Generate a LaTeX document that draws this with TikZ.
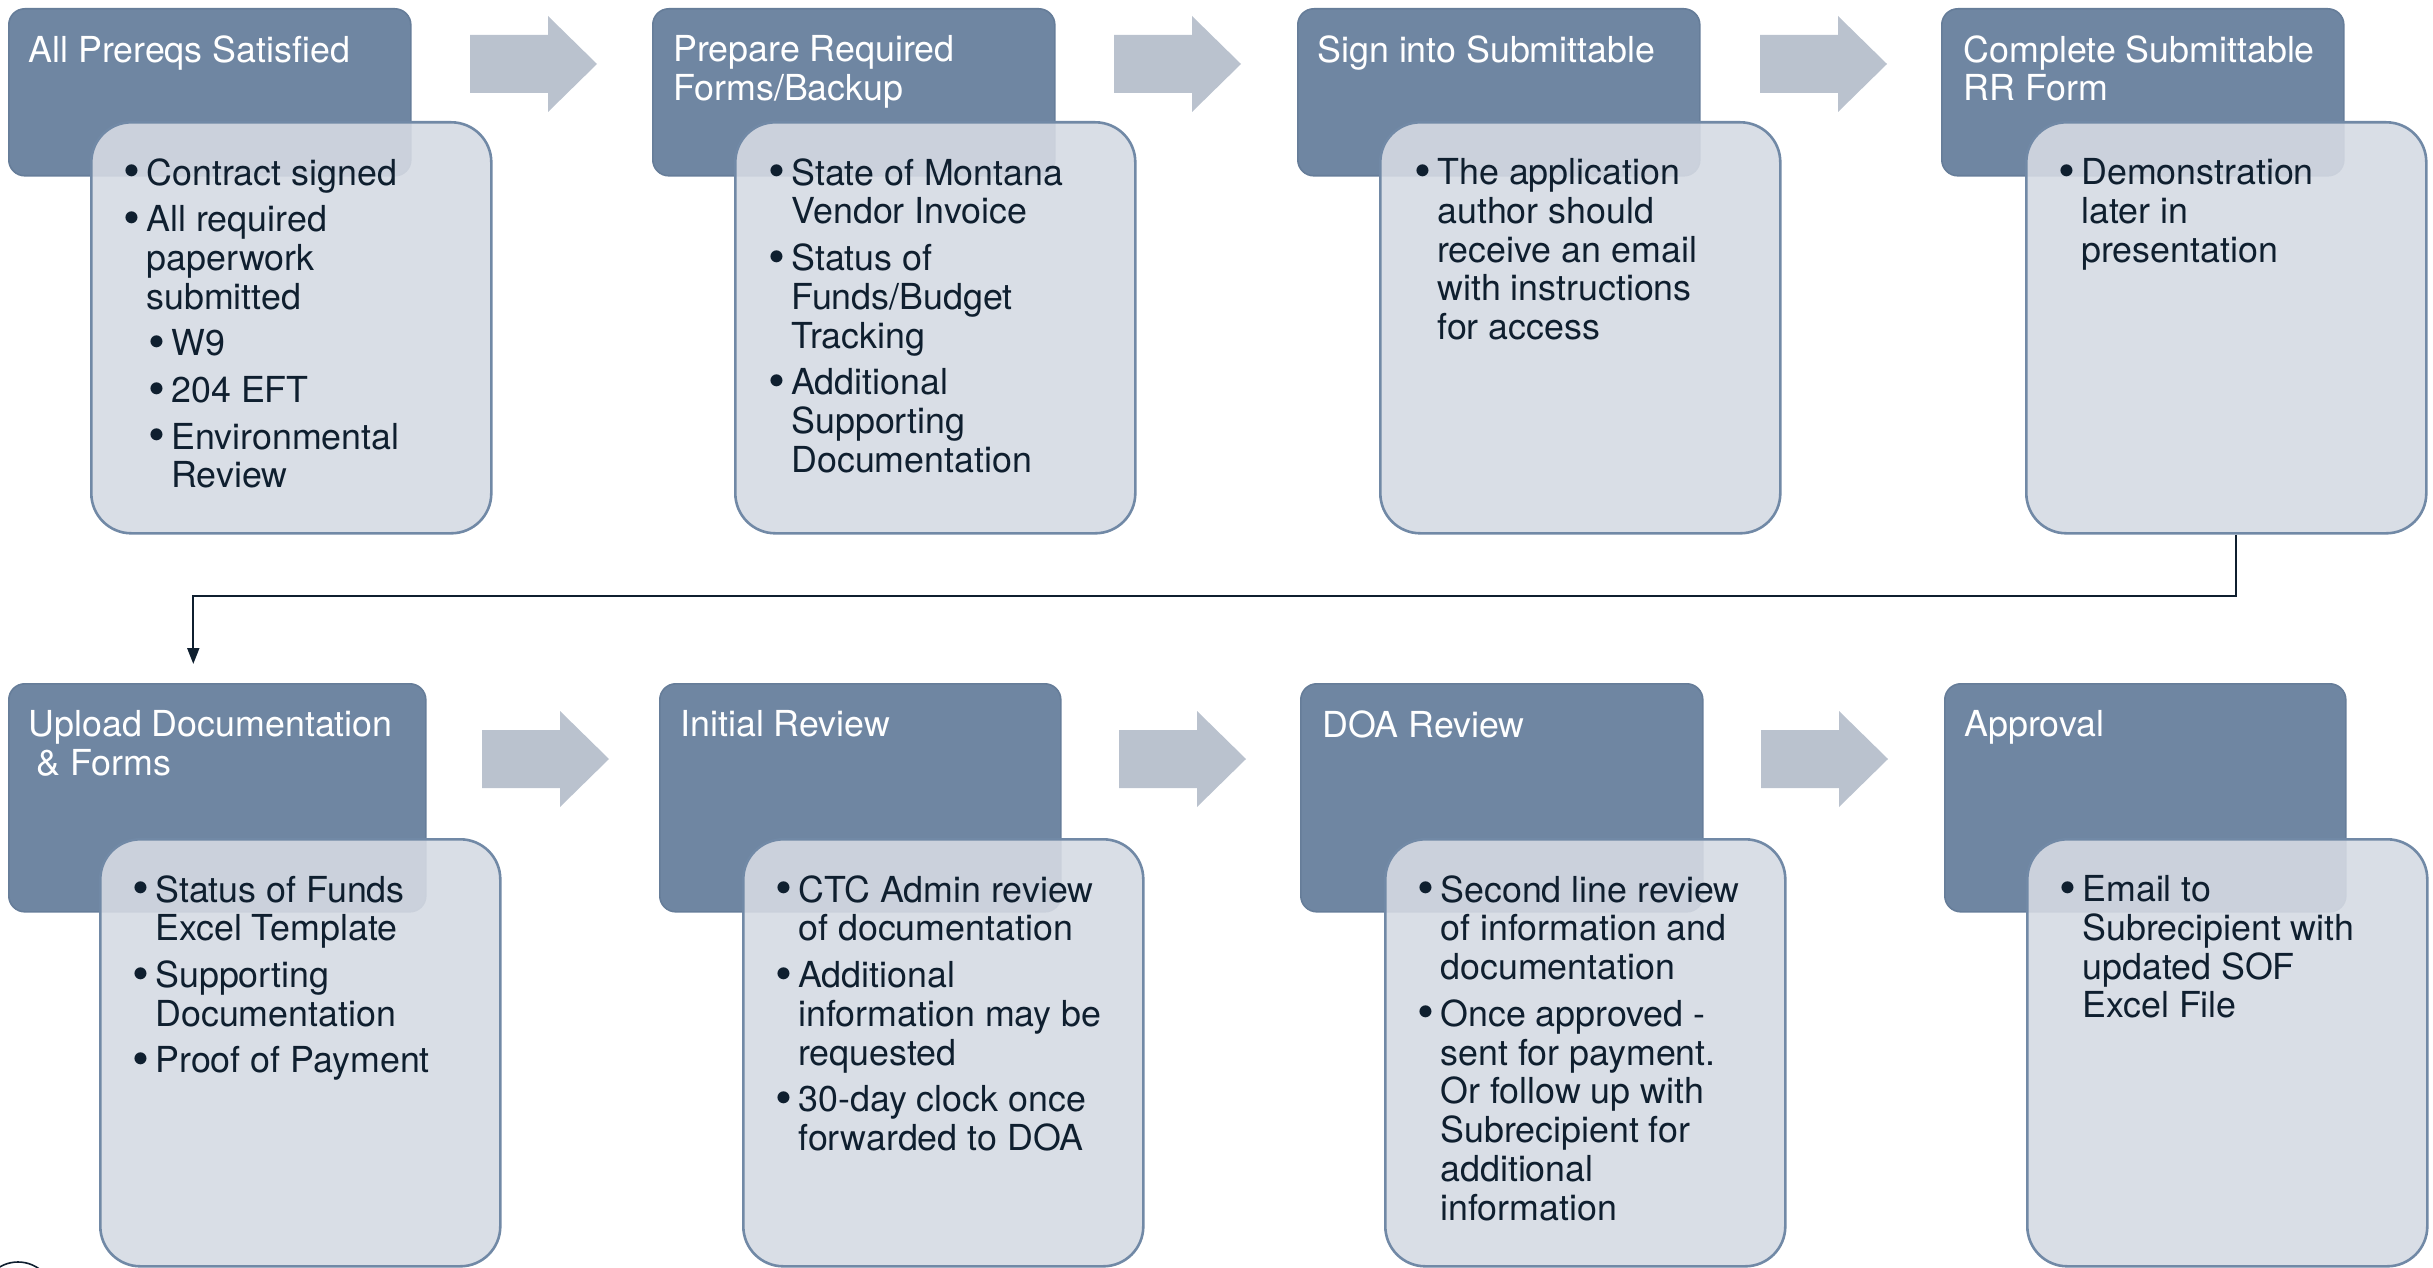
\documentclass[tikz,border=0pt]{standalone}
\usepackage{fontspec}
\setmainfont{TeX Gyre Heros}
\usetikzlibrary{arrows.meta}
\definecolor{topfill}{HTML}{6F86A2}
\definecolor{topdraw}{HTML}{667D99}
\definecolor{detfill}{RGB}{213,218,227}
\definecolor{detdraw}{HTML}{7189A6}
\definecolor{arrfill}{HTML}{BAC2CE}
\definecolor{txt}{HTML}{0F1F2F}
\newcommand\bul{\makebox[0pt][r]{\raisebox{-0.07em}{\scalebox{1.35}{\textbullet}}\hspace{3pt}}}
\newcommand\subind{\hspace*{12.5pt}}
\newcommand\gap{\\[3.9pt]}
\newcommand\flowarrow[2]{\fill[arrfill] (#1,#2) ++(0,-29) -- ++(78,0) -- ++(0,-19) -- ++(49,48) -- ++(-49,48) -- ++(0,-19) -- ++(-78,0) -- cycle;}
\begin{document}
\begin{tikzpicture}[x=0.5pt,y=-0.5pt,
  topbox/.style={draw=topdraw, line width=0.8pt, fill=topfill, rounded corners=8pt,
    anchor=north west, inner sep=0pt},
  detbox/.style={draw=detdraw, line width=1.3pt, fill=detfill, fill opacity=0.9,
    rounded corners=20pt, anchor=north west, inner sep=0pt,
    minimum width=200pt},
  ttl/.style={anchor=north west, inner sep=0pt, text=white, align=left,
    font=\fontsize{17.9}{19.4}\selectfont},
  det/.style={anchor=north west, inner sep=0pt, text=txt, align=left,
    font=\fontsize{17.9}{19.4}\selectfont},
  conn/.style={draw=txt, line width=1pt, -{Triangle[width=6pt,length=8pt]}}
]
\useasboundingbox (0,0) rectangle (2433,1268);

% ---- top (dark) boxes ----
\node[topbox, minimum width=201pt, minimum height=83.5pt] (t1) at (8,8) {};
\node[topbox, minimum width=201pt, minimum height=83.5pt] (t2) at (652,8) {};
\node[topbox, minimum width=201pt, minimum height=83.5pt] (t3) at (1297,8) {};
\node[topbox, minimum width=201pt, minimum height=83.5pt] (t4) at (1941,8) {};
\node[topbox, minimum width=208.5pt, minimum height=114pt] (t5) at (8,683) {};
\node[topbox, minimum width=200.5pt, minimum height=114pt] (t6) at (659,683) {};
\node[topbox, minimum width=201pt, minimum height=114pt] (t7) at (1300,683) {};
\node[topbox, minimum width=200.5pt, minimum height=114pt] (t8) at (1944,683) {};

% ---- block arrows ----
\flowarrow{470}{64}
\flowarrow{1114}{64}
\flowarrow{1760}{64}
\flowarrow{482}{759}
\flowarrow{1119}{759}
\flowarrow{1761}{759}

% ---- detail (light) boxes ----
\node[detbox, minimum height=205.5pt] (d1) at (90,121) {};
\node[detbox, minimum height=205.5pt] (d2) at (734,121) {};
\node[detbox, minimum height=205.5pt] (d3) at (1379,121) {};
\node[detbox, minimum height=205.5pt] (d4) at (2025,121) {};
\node[detbox, minimum height=213.5pt] (d5) at (99,838) {};
\node[detbox, minimum height=213.5pt] (d6) at (742,838) {};
\node[detbox, minimum height=213.5pt] (d7) at (1384,838) {};
\node[detbox, minimum height=213.5pt] (d8) at (2026,838) {};

% ---- connector from row 1 to row 2 ----
\draw[conn] ([xshift=5pt]d4.south) -- ++(0,61) -| ([xshift=-12pt,yshift=9.5pt]t5.north);

% ---- titles ----
\node[ttl] (h1) at (28,35) {All Prereqs Satisfied};
\node[ttl] (h2) at (673,35) {Prepare Required\\Forms/Backup};
\node[ttl] (h3) at (1317,35) {Sign into Submittable};
\node[ttl] (h4) at (1963,35) {Complete Submittable\\RR Form};
\node[ttl] (h5) at (28,710) {Upload Documentation\\\hspace*{4pt}\& Forms};
\node[ttl] (h6) at (680,710) {Initial Review};
\node[ttl] (h7) at (1322,710) {DOA Review};
\node[ttl] (h8) at (1964,710) {Approval};

% ---- detail texts ----
\node[det] (x1) at (146,158) {\bul Contract signed\gap
  \bul All required\\paperwork\\submitted\gap
  \subind\bul W9\gap
  \subind\bul 204 EFT\gap
  \subind\bul Environmental\\\subind Review};
\node[det] (x2) at (791,158) {\bul State of Montana\\Vendor Invoice\gap
  \bul Status of\\Funds/Budget\\Tracking\gap
  \bul Additional\\Supporting\\Documentation};
\node[det] (x3) at (1437,158) {\bul The application\\author should\\receive an email\\with instructions\\for access};
\node[det] (x4) at (2081,158) {\bul Demonstration\\later in\\presentation};
\node[det] (x5) at (155,875) {\bul Status of Funds\\Excel Template\gap
  \bul Supporting\\Documentation\gap
  \bul Proof of Payment};
\node[det] (x6) at (798,875) {\bul CTC Admin review\\of documentation\gap
  \bul Additional\\information may be\\requested\gap
  \bul 30-day clock once\\forwarded to DOA};
\node[det] (x7) at (1440,875) {\bul Second line review\\of information and\\documentation\gap
  \bul Once approved -\\sent for payment.\\Or follow up with\\Subrecipient for\\additional\\information};
\node[det] (x8) at (2082,875) {\bul Email to\\Subrecipient with\\updated SOF\\Excel File};

% ---- partial circle at bottom left ----
\draw[txt, line width=0.8pt] (18,1298) circle[radius=18pt];
\end{tikzpicture}
\end{document}
